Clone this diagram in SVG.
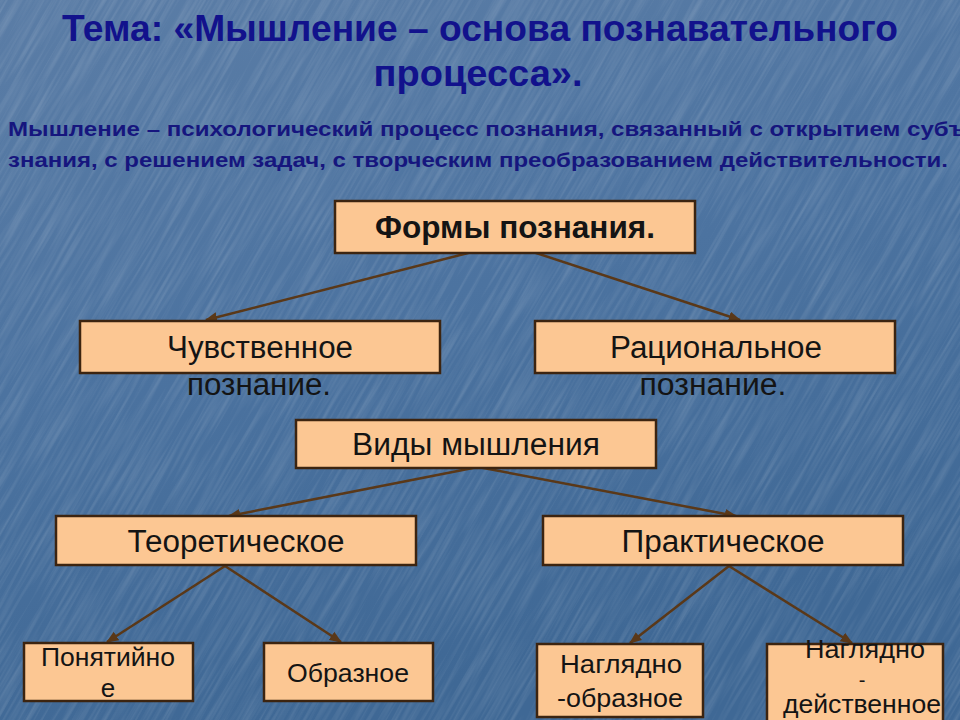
<svg xmlns="http://www.w3.org/2000/svg" width="960" height="720" viewBox="0 0 960 720">
<defs>
  <linearGradient id="bg" x1="0" y1="0" x2="0.3" y2="1">
    <stop offset="0" stop-color="#5b7da6"/>
    <stop offset="0.5" stop-color="#4c73a0"/>
    <stop offset="1" stop-color="#3f6895"/>
  </linearGradient>
  <filter id="tex" x="0" y="0" width="100%" height="100%">
    <feTurbulence type="fractalNoise" baseFrequency="0.012 0.3" numOctaves="2" seed="3" result="n"/>
    <feColorMatrix type="matrix" values="0 0 0 0 1  0 0 0 0 1  0 0 0 0 1  0 0 0.9 0 -0.35"/>
  </filter>
  <marker id="ah" viewBox="0 0 10 10" refX="9" refY="5" markerWidth="5" markerHeight="5" orient="auto">
    <path d="M0,1 L10,5 L0,9 Z" fill="#5a3818"/>
  </marker>
  <style>
    .box{fill:#fcc793;stroke:#3c2410;stroke-width:2.5}
    .lbl{font-family:"Liberation Sans",Arial,sans-serif;fill:#141414;text-anchor:middle}
    .big{font-size:31px}
    .sm{font-size:26px}
    .xs{font-size:25px}
    .title{font-family:"Liberation Sans",Arial,sans-serif;font-weight:bold;fill:#12128c;text-anchor:middle;font-size:37px}
    .para{font-family:"Liberation Sans",Arial,sans-serif;font-weight:bold;fill:#16167e;font-size:21px}
    .conn{stroke:#5a3818;stroke-width:2.5;fill:none;marker-end:url(#ah)}
  </style>
</defs>
<rect width="960" height="720" fill="url(#bg)"/>
<g transform="rotate(-60 480 360)" opacity="0.3">
  <rect x="-400" y="-400" width="1760" height="1520" filter="url(#tex)"/>
</g>

<g id="title">
  <text class="title" x="480" y="41" textLength="836" lengthAdjust="spacingAndGlyphs">Тема: «Мышление – основа познавательного</text>
  <text class="title" x="478" y="86" textLength="209" lengthAdjust="spacingAndGlyphs">процесса».</text>
</g>
<g id="definition">
  <text class="para" x="8" y="136" textLength="958" lengthAdjust="spacingAndGlyphs">Мышление – психологический процесс познания, связанный с открытием субъ</text>
  <text class="para" x="8" y="167" textLength="940" lengthAdjust="spacingAndGlyphs">знания, с решением задач, с творческим преобразованием действительности.</text>
</g>

<g id="connectors">
  <line class="conn" x1="476" y1="251" x2="206" y2="320"/>
  <line class="conn" x1="530" y1="251" x2="740" y2="320"/>
  <line class="conn" x1="478" y1="467" x2="229" y2="516"/>
  <line class="conn" x1="478" y1="467" x2="736" y2="516"/>
  <line class="conn" x1="225" y1="566" x2="107" y2="642"/>
  <line class="conn" x1="225" y1="566" x2="341" y2="642"/>
  <line class="conn" x1="729" y1="566" x2="630" y2="643"/>
  <line class="conn" x1="729" y1="566" x2="852" y2="643"/>
</g>

<g id="forms">
  <rect class="box" x="335" y="201" width="360" height="52"/>
  <text class="lbl" x="515" y="238" font-weight="bold" font-size="32" textLength="280" lengthAdjust="spacingAndGlyphs">Формы познания.</text>
</g>
<g id="sensory">
  <rect class="box" x="80" y="321" width="360" height="52"/>
  <text class="lbl big" x="260" y="358" textLength="186" lengthAdjust="spacingAndGlyphs">Чувственное</text>
  <text class="lbl big" x="259" y="395" fill="#1c1c2a" textLength="144" lengthAdjust="spacingAndGlyphs">познание.</text>
</g>
<g id="rational">
  <rect class="box" x="535" y="321" width="360" height="52"/>
  <text class="lbl big" x="716" y="358" textLength="212" lengthAdjust="spacingAndGlyphs">Рациональное</text>
  <text class="lbl big" x="713" y="395" fill="#1c1c2a" textLength="147" lengthAdjust="spacingAndGlyphs">познание.</text>
</g>
<g id="types">
  <rect class="box" x="296" y="420" width="360" height="48"/>
  <text class="lbl big" x="476" y="455" textLength="248" lengthAdjust="spacingAndGlyphs">Виды мышления</text>
</g>
<g id="theoretical">
  <rect class="box" x="56" y="516" width="360" height="49"/>
  <text class="lbl big" x="236" y="552" textLength="217" lengthAdjust="spacingAndGlyphs">Теоретическое</text>
</g>
<g id="practical">
  <rect class="box" x="543" y="516" width="360" height="49"/>
  <text class="lbl big" x="723" y="552" textLength="203" lengthAdjust="spacingAndGlyphs">Практическое</text>
</g>
<g id="conceptual">
  <rect class="box" x="24" y="643" width="169" height="58"/>
  <text class="lbl sm" x="108" y="666" textLength="134" lengthAdjust="spacingAndGlyphs">Понятийно</text>
  <text class="lbl sm" x="108" y="697">е</text>
</g>
<g id="figurative">
  <rect class="box" x="264" y="643" width="169" height="58"/>
  <text class="lbl sm" x="348" y="682" textLength="122" lengthAdjust="spacingAndGlyphs">Образное</text>
</g>
<g id="visual-figurative">
  <rect class="box" x="537" y="644" width="166" height="73"/>
  <text class="lbl xs" x="621" y="673" textLength="122" lengthAdjust="spacingAndGlyphs">Наглядно</text>
  <text class="lbl xs" x="620" y="707" textLength="126" lengthAdjust="spacingAndGlyphs">-образное</text>
</g>
<g id="visual-active">
  <rect class="box" x="767" y="644" width="176" height="80"/>
  <text class="lbl xs" x="865" y="658" textLength="120" lengthAdjust="spacingAndGlyphs">Наглядно</text>
  <text class="lbl" x="862" y="687" font-size="20">-</text>
  <text class="lbl xs" x="862" y="713" textLength="158" lengthAdjust="spacingAndGlyphs">действенное</text>
</g>
</svg>
